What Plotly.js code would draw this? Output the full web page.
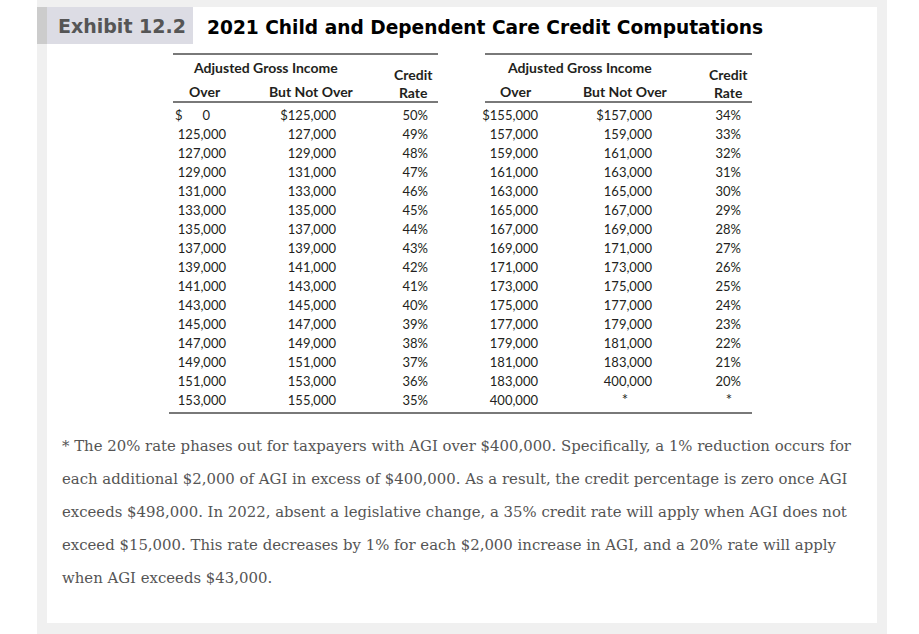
<!DOCTYPE html>
<html>
<head>
<meta charset="utf-8">
<script src="https://cdn.plot.ly/plotly-3.0.1.min.js"></script>
<style>
  html, body { margin: 0; padding: 0; background: #fff; }
  #chart { width: 919px; height: 634px; }
</style>
</head>
<body>
<div id="chart"></div>
<script>
// Table data
const leftOver = [0, 125000, 127000, 129000, 131000, 133000, 135000, 137000, 139000, 141000, 143000, 145000, 147000, 149000, 151000, 153000];
const leftNotOver = [125000, 127000, 129000, 131000, 133000, 135000, 137000, 139000, 141000, 143000, 145000, 147000, 149000, 151000, 153000, 155000];
const leftRate = [50, 49, 48, 47, 46, 45, 44, 43, 42, 41, 40, 39, 38, 37, 36, 35];
const rightOver = [155000, 157000, 159000, 161000, 163000, 165000, 167000, 169000, 171000, 173000, 175000, 177000, 179000, 181000, 183000, 400000];
const rightNotOver = [157000, 159000, 161000, 163000, 165000, 167000, 169000, 171000, 173000, 175000, 177000, 179000, 181000, 183000, 400000, null];
const rightRate = [34, 33, 32, 31, 30, 29, 28, 27, 26, 25, 24, 23, 22, 21, 20, null];

const footnoteLines = [
    '* The 20% rate phases out for taxpayers with AGI over $400,000. Specifically, a 1% reduction occurs for',
    'each additional $2,000 of AGI in excess of $400,000. As a result, the credit percentage is zero once AGI',
    'exceeds $498,000. In 2022, absent a legislative change, a 35% credit rate will apply when AGI does not',
    'exceed $15,000. This rate decreases by 1% for each $2,000 increase in AGI, and a 20% rate will apply',
    'when AGI exceeds $43,000.'
];

const TXT = '#231f20';
const SANS = 'Lato, "Open Sans", sans-serif';
const ROW0 = 117, ROWH = 19;

const rowY = leftOver.map((_, i) => ROW0 + i * ROWH);
const money = (v, i) => v === null ? '*' : (i === 0 ? '$' : '') + v.toLocaleString('en-US');
const pct = v => v === null ? '*' : v + '%';

function col(xRight, texts, pos) {
    return {
        type: 'scatter',
        mode: 'text',
        x: texts.map(() => xRight),
        y: rowY,
        text: texts,
        textposition: pos || 'middle left',
        textfont: { family: SANS, size: 13, color: TXT },
        hoverinfo: 'skip',
        showlegend: false,
        cliponaxis: false
    };
}

// the "$ 0" cell is split: dollar sign flush left, the zero further right
const leftOverText = leftOver.map(v => v.toLocaleString('en-US'));
const rightNotOverText = rightNotOver.map((v, i) => money(v, i));
const rightRateText = rightRate.map(pct);
const lastY = rowY[rowY.length - 1];

const traces = [
    col(226, leftOverText.map((t, i) => i === 0 ? '' : t)),
    { ...col(210, [leftOverText[0]]), y: [rowY[0]] },
    { ...col(175, ['$'], 'middle right'), y: [rowY[0]] },
    col(336, leftNotOver.map(money)),
    col(428, leftRate.map(pct)),
    col(538, rightOver.map(money)),
    col(652, rightNotOverText.map(t => t === '*' ? '' : t)),
    col(741, rightRateText.map(t => t === '*' ? '' : t)),
    // asterisk cells, centred in their columns
    { ...col(625, ['*'], 'middle center'), y: [lastY - 1], textfont: { family: SANS, size: 15, color: TXT } },
    { ...col(729, ['*'], 'middle center'), y: [lastY - 1], textfont: { family: SANS, size: 15, color: TXT } }
];

const hdr = (x, y, text) => ({
    x, y, text, xref: 'x', yref: 'y', showarrow: false,
    font: { family: SANS, size: 14, color: TXT },
    xanchor: 'center', yanchor: 'middle', borderpad: 0
});

const annotations = [
    hdr(265, 67, '<b>Adjusted Gross Income</b>'),
    hdr(205, 91, '<b>Over</b>'),
    hdr(311, 91, '<b>But Not Over</b>'),
    hdr(413, 83.5, '<b>Credit</b><br><b>Rate</b>'),
    hdr(579, 67, '<b>Adjusted Gross Income</b>'),
    hdr(516, 91, '<b>Over</b>'),
    hdr(625, 91, '<b>But Not Over</b>'),
    hdr(728, 83.5, '<b>Credit</b><br><b>Rate</b>'),
    {
        x: 56, y: 26, xref: 'x', yref: 'y', showarrow: false, xanchor: 'left', yanchor: 'middle',
        text: '<b>Exhibit 12.2</b>',
        font: { family: '"DejaVu Sans", sans-serif', size: 19, color: '#555555' }
    },
    {
        x: 205, y: 27, xref: 'x', yref: 'y', showarrow: false, xanchor: 'left', yanchor: 'middle',
        text: '<b>2021 Child and Dependent Care Credit Computations</b>',
        font: { family: '"DejaVu Sans", sans-serif', size: 18.6, color: '#000000' }
    },
    ...footnoteLines.map((t, i) => ({
        x: 60, y: 446 + i * 33, xref: 'x', yref: 'y', showarrow: false, xanchor: 'left', yanchor: 'middle',
        text: t,
        font: { family: '"DejaVu Serif", serif', size: 14.9, color: '#555555' }
    }))
];

const rule = (x0, x1, y) => ({
    type: 'line', xref: 'x', yref: 'y', x0, x1, y0: y, y1: y,
    line: { color: '#4d4d4d', width: 1.5 }
});
const box = (x0, x1, y0, y1, color) => ({
    type: 'rect', xref: 'x', yref: 'y', x0, x1, y0, y1, layer: 'below',
    fillcolor: color, line: { width: 0 }
});

const shapes = [
    box(37, 887, 0, 634, '#f0f0f0'),
    box(47, 877, 7, 623, '#ffffff'),
    box(37, 47, 7, 44, '#cccccc'),
    box(47, 193, 7, 44, '#dcdce4'),
    rule(173, 438, 54), rule(485, 752, 54),
    rule(173, 438, 102), rule(485, 752, 102),
    rule(169, 752, 413)
];

Plotly.newPlot('chart', traces, {
    width: 919,
    height: 634,
    margin: { l: 0, r: 0, t: 0, b: 0 },
    paper_bgcolor: '#ffffff',
    plot_bgcolor: 'rgba(0,0,0,0)',
    xaxis: { range: [0, 919], visible: false, fixedrange: true },
    yaxis: { range: [634, 0], visible: false, fixedrange: true },
    shapes,
    annotations,
    showlegend: false
}, { displayModeBar: false, staticPlot: true });
</script>
</body>
</html>
